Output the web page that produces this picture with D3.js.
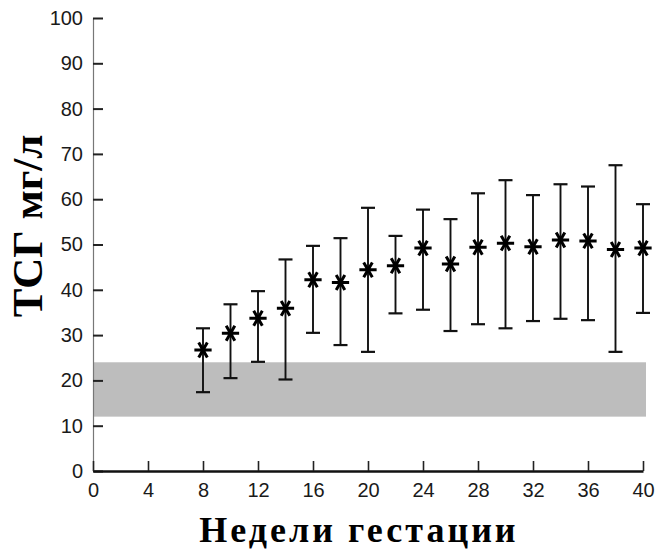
<!DOCTYPE html>
<html>
<head>
<meta charset="utf-8">
<script src="https://cdn.jsdelivr.net/npm/d3@7"></script>
<style>
  body { margin: 0; background: #fff; }
  svg { display: block; }
</style>
</head>
<body>
<div id="chart"></div>
<script>
(() => {
  // Data
  const weeks = [8, 10, 12, 14, 16, 18, 20, 22, 24, 26, 28, 30, 32, 34, 36, 38, 40];
  const means = [26.7, 30.4, 33.7, 35.9, 42.2, 41.6, 44.4, 45.3, 49.2, 45.7, 49.4, 50.3, 49.5, 51.0, 50.8, 48.9, 49.2];
  const upper = [31.5, 36.8, 39.7, 46.7, 49.7, 51.4, 58.1, 51.9, 57.7, 55.6, 61.3, 64.2, 60.9, 63.3, 62.8, 67.5, 58.9];
  const lower = [17.4, 20.5, 24.1, 20.2, 30.5, 27.8, 26.3, 34.8, 35.6, 30.9, 32.4, 31.5, 33.1, 33.6, 33.3, 26.3, 34.9];
  const normalRange = [12, 24];
  const xTicks = [0, 4, 8, 12, 16, 20, 24, 28, 32, 36, 40];
  const yTicks = [0, 10, 20, 30, 40, 50, 60, 70, 80, 90, 100];
  const xLabel = "Недели гестации";
  const yLabel = "ТСГ мг/л";

  // Config
  const WIDTH = 659, HEIGHT = 551;
  const CAP = 7;

  const rows = weeks.map((w, i) => ({ week: w, mean: means[i], hi: upper[i], lo: lower[i] }));

  const x = d3.scaleLinear().domain([0, 40]).range([93, 643]);
  const y = d3.scaleLinear().domain([0, 100]).range([471, 18]);

  const svg = d3.select("#chart").append("svg")
    .attr("width", WIDTH)
    .attr("height", HEIGHT);

  // normal range band
  svg.append("rect")
    .attr("x", x(0))
    .attr("width", x(40) - x(0) + 3)
    .attr("y", y(normalRange[1]))
    .attr("height", y(normalRange[0]) - y(normalRange[1]))
    .attr("fill", "#bdbdbd");

  // axes
  const tickFont = sel => sel
    .attr("font-family", "Liberation Sans, Arial, sans-serif")
    .attr("font-size", 20)
    .attr("fill", "#1a1a1a");

  const yAxis = svg.append("g")
    .attr("transform", `translate(${x(0)},0)`)
    .call(d3.axisLeft(y).tickValues(yTicks).tickSizeInner(-10).tickSizeOuter(0).tickPadding(10));
  yAxis.select(".domain").attr("stroke", "#777").attr("stroke-width", 1.2);
  yAxis.selectAll(".tick line").attr("stroke", "#222").attr("stroke-width", 2);
  yAxis.selectAll(".tick text").call(tickFont);

  const xAxis = svg.append("g")
    .attr("transform", `translate(0,${y(0)})`)
    .call(d3.axisBottom(x).tickValues(xTicks).tickSizeInner(-10).tickSizeOuter(0).tickPadding(12));
  xAxis.select(".domain").attr("stroke", "#111").attr("stroke-width", 2.5);
  xAxis.selectAll(".tick line").attr("stroke", "#222").attr("stroke-width", 1.6);
  xAxis.selectAll(".tick text").call(tickFont);

  // error bars
  const bars = svg.append("g").attr("stroke", "#111").attr("fill", "none");
  const bar = bars.selectAll("g.bar").data(rows).join("g").attr("class", "bar");
  bar.append("line")
    .attr("x1", d => x(d.week)).attr("x2", d => x(d.week))
    .attr("y1", d => y(d.hi)).attr("y2", d => y(d.lo))
    .attr("stroke-width", 1.9);
  bar.append("line")
    .attr("x1", d => x(d.week) - CAP).attr("x2", d => x(d.week) + CAP)
    .attr("y1", d => y(d.hi)).attr("y2", d => y(d.hi))
    .attr("stroke-width", 2.2);
  bar.append("line")
    .attr("x1", d => x(d.week) - CAP).attr("x2", d => x(d.week) + CAP)
    .attr("y1", d => y(d.lo)).attr("y2", d => y(d.lo))
    .attr("stroke-width", 2.2);

  // star markers
  const star = d3.symbol(d3.symbolAsterisk, 210);
  svg.append("g").selectAll("path.star").data(rows).join("path")
    .attr("class", "star")
    .attr("d", star)
    .attr("transform", d => `translate(${x(d.week)},${y(d.mean)}) rotate(90)`)
    .attr("fill", "none")
    .attr("stroke", "#000")
    .attr("stroke-width", 3);

  // axis titles
  svg.append("text")
    .attr("x", 359)
    .attr("y", 542)
    .attr("text-anchor", "middle")
    .attr("font-family", "Liberation Serif, Times New Roman, serif")
    .attr("font-weight", "bold")
    .attr("font-size", 36)
    .attr("letter-spacing", 3)
    .attr("fill", "#000")
    .text(xLabel);

  svg.append("text")
    .attr("transform", `translate(42,226) rotate(-90)`)
    .attr("text-anchor", "middle")
    .attr("font-family", "Liberation Serif, Times New Roman, serif")
    .attr("font-weight", "bold")
    .attr("font-size", 43)
    .attr("fill", "#000")
    .text(yLabel);
})();
</script>
</body>
</html>
